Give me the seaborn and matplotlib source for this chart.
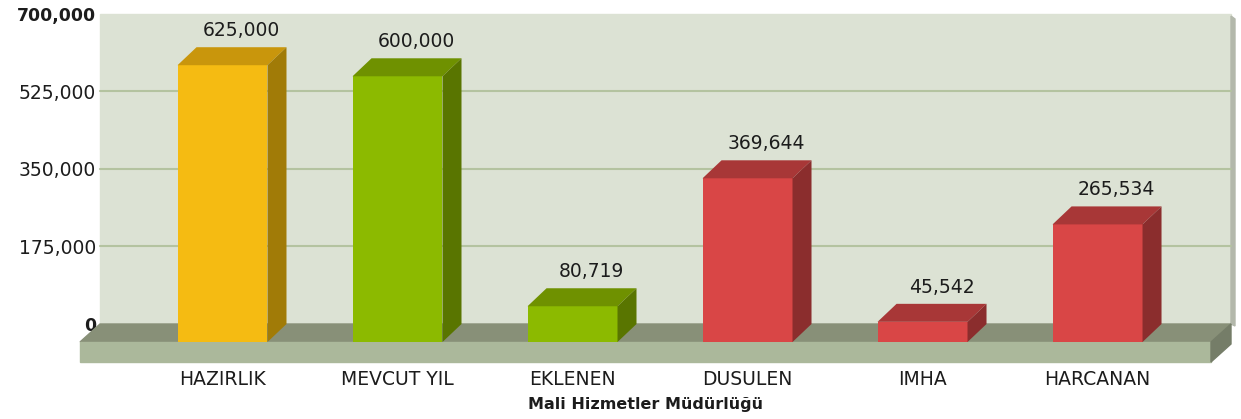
import numpy as np
import pandas as pd
import seaborn as sns
import matplotlib.pyplot as plt
from matplotlib.patches import Polygon, Rectangle
from matplotlib.transforms import ScaledTranslation, IdentityTransform

# --- data ---
categories = ["HAZIRLIK", "MEVCUT YIL", "EKLENEN", "DUSULEN", "IMHA", "HARCANAN"]
values = [625000, 600000, 80719, 369644, 45542, 265534]
y_ticks = [0, 175000, 350000, 525000, 700000]
x_title = "Mali Hizmetler Müdürlüğü"

front_colors = ["#f5bb12", "#8cba00", "#8cba00", "#d94646", "#d94646", "#d94646"]
top_colors = ["#c9960c", "#6f9100", "#6f9100", "#a83737", "#a83737", "#a83737"]
side_colors = ["#a17b07", "#597500", "#597500", "#8b2d2d", "#8b2d2d", "#8b2d2d"]

df = pd.DataFrame({"cat": categories, "val": values})

# --- layout (pixels) ---
W, H = 1241, 419
L, R, B, T = 81, 1212, 342, 32      # front plane
DX, DY = 19, 18                      # 3d depth offset
FLOOR = 20

sns.set_style("white")
fig = plt.figure(figsize=(W / 100, H / 100), dpi=100)
ax = fig.add_axes([L / W, (H - B) / H, (R - L) / W, (B - T) / H])
ax.set_facecolor("none")
for s in ax.spines.values():
    s.set_visible(False)

off = ScaledTranslation(DX / 100, DY / 100, fig.dpi_scale_trans)
back = ax.transData + off


def px(x, y):
    return (x / W, 1 - y / H)


# back wall + shadow
ax.add_patch(Rectangle((0, 0), 1, 1, transform=ax.transAxes + off,
                       color="#dce2d4", zorder=0, clip_on=False))
ax.add_patch(Polygon([px(R + DX, T - DY + 2), px(R + DX + 4, T - DY + 5),
                      px(R + DX + 4, B - DY + 2), px(R + DX, B - DY)],
                     closed=True, transform=fig.transFigure, color="#b3b8ab",
                     zorder=0, clip_on=False))

# floor
ax.add_patch(Polygon([px(L - 1, B), px(R - 1, B), px(R + DX, B - DY), px(L + DX, B - DY)],
                     closed=True, transform=fig.transFigure, color="#889078",
                     zorder=1, clip_on=False))
ax.add_patch(Rectangle(px(L - 1, B + FLOOR), (R - L) / W, FLOOR / H,
                       transform=fig.transFigure, color="#abb89b", zorder=1, clip_on=False))
ax.add_patch(Polygon([px(R - 1, B), px(R + DX, B - DY), px(R + DX, B - DY + FLOOR),
                      px(R - 1, B + FLOOR)],
                     closed=True, transform=fig.transFigure, color="#757d68",
                     zorder=1, clip_on=False))

# bars (front faces)
sns.barplot(data=df, x="cat", y="val", hue="cat", palette=front_colors,
            width=0.514, saturation=1, legend=False, ax=ax, zorder=3,
            linewidth=0, edgecolor="none")

ax.set_xlim(-0.8086, 5.654)
ax.set_ylim(0, 700000)

# gridlines on the back wall
for t in y_ticks[1:-1]:
    ax.plot([-0.8086, 5.654], [t, t], color="#b4c3a0", lw=1.5, transform=back,
            zorder=0.5, clip_on=False)

# top and side faces
for p, tc, sc, v in zip(ax.patches[-len(values):], top_colors, side_colors, values):
    x0, w, h = p.get_x(), p.get_width(), p.get_height()
    (xl, yb), (xr, yt) = ax.transData.transform([(x0, 0), (x0 + w, h)])
    ax.add_patch(Polygon([(xl, yt), (xr, yt), (xr + DX, yt + DY), (xl + DX, yt + DY)],
                         closed=True, transform=IdentityTransform(), color=tc,
                         zorder=3, clip_on=False, linewidth=0))
    ax.add_patch(Polygon([(xr, yb), (xr, yt), (xr + DX, yt + DY), (xr + DX, yb + DY)],
                         closed=True, transform=IdentityTransform(), color=sc,
                         zorder=3, clip_on=False, linewidth=0))
    ax.annotate(f"{v:,}", (x0 + w / 2, v), xycoords=back, xytext=(0, 5),
                textcoords="offset points", ha="center", va="bottom",
                fontsize=13.5, color="#1c1c1c", zorder=4)

# axes labels
ax.set_yticks(y_ticks)
ax.set_yticklabels([f"{t:,}" for t in y_ticks])
ax.tick_params(axis="y", length=0, pad=3, labelsize=13.5, labelcolor="#1c1c1c")
for lab, t in zip(ax.get_yticklabels(), y_ticks):
    lab.set_transform(lab.get_transform() + off)
    if t in (0, 700000):
        lab.set_fontweight("bold")
        lab.set_fontsize(12.5)
ax.tick_params(axis="x", length=0, pad=20, labelsize=13.5, labelcolor="#1c1c1c")
ax.set_xlabel("")
ax.set_ylabel("")
fig.text(645 / W, 1 - 404 / H, x_title, ha="center", va="center",
         fontsize=11.5, fontweight="bold", color="#1c1c1c")

fig.savefig("out.png", dpi=100)
